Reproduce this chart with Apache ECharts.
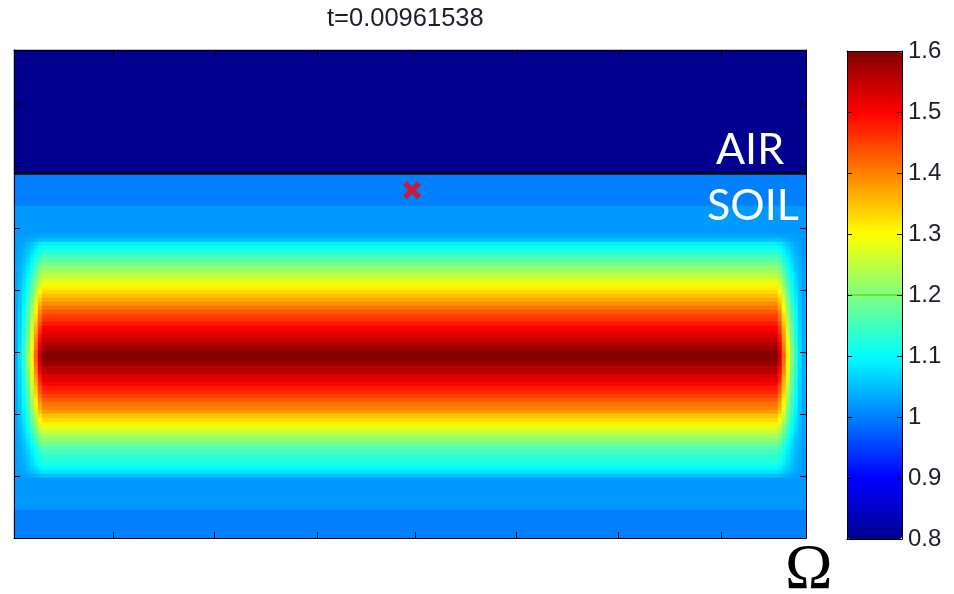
<!DOCTYPE html>
<html><head><meta charset="utf-8">
<script src="https://cdn.jsdelivr.net/npm/echarts@6/dist/echarts.min.js"></script>
<style>html,body{margin:0;padding:0;background:#fff}#c{width:954px;height:594px}</style>
</head><body><div id="c"></div>
<script>
// ---- data ----
const titleText = 't=0.00961538';
const airValue = 0.8;          // value in the AIR layer
const airRows = 31;            // rows of the field above the interface
const bandBase = 1.02;         // level reached by the soil band next to the walls
// soil value per row, top (interface) to bottom, centre columns
const soilProfile = [
  1.00,1.00,1.00,1.00,1.00,1.00,1.00,1.00,
  1.02,1.02,1.02,1.02,1.02,1.02,1.02,
  1.03,1.05,1.09,1.11,1.13,1.15,1.17,1.19,1.21,1.23,1.25,1.27,1.29,1.31,1.33,1.35,
  1.37,1.39,1.41,1.43,1.45,1.46,1.48,1.50,1.51,1.53,1.54,1.56,1.57,1.59,1.60,
  1.59,1.58,1.56,1.55,1.53,1.52,1.50,1.48,1.47,1.45,1.43,1.41,1.40,1.38,1.35,
  1.33,1.31,1.28,1.26,1.23,1.21,1.19,1.17,1.15,1.14,1.13,1.12,1.10,1.08,1.05,
  1.02,1.02,1.02,1.02,1.02,1.02,1.02,1.02,
  1.00,1.00,1.00,1.00,1.00,1.00,1.00
];
// share of the band kept in the columns next to the left / right walls
const leftEdge = [0.03,0.10,0.20,0.33,0.50,0.70,0.90];
const rightEdge = [0.90,0.70,0.50,0.33,0.20,0.10,0.03];
const interiorColumns = 184;
// axes
const xMax = 7.82;
const xTicks = [0.98,1.98,2.99,3.96,4.96,5.97,6.98];
const yMax = 7.87;
const interfaceLevel = 5.88;
const markerPoint = [3.93, 5.61];
const colorMin = 0.8, colorMax = 1.6, colorStep = 0.1;
const colorContour = 1.2;
const jet = ['#00008F','#0000FF','#0080FF','#00FFFF','#80FF80','#FFFF00','#FF8000','#FF0000','#800000'];

// ---- build the field ----
const columnFactor = leftEdge.concat(new Array(interiorColumns).fill(1), rightEdge);
const nCols = columnFactor.length;
const nRows = airRows + soilProfile.length;
const field = [];
for (let r = 0; r < nRows; r++) {
  for (let c = 0; c < nCols; c++) {
    let v;
    if (r < airRows) v = airValue;
    else {
      const p = soilProfile[r - airRows];
      v = p <= bandBase ? p : bandBase + (p - bandBase) * columnFactor[c];
    }
    field.push([c, nRows - 1 - r, v]);
  }
}
const colCats = Array.from({length: nCols}, (_, i) => i);
const rowCats = Array.from({length: nRows}, (_, i) => i);

const black = '#000';
const labelColor = '#1e1e2a';
function frameAxis(extra) {
  return Object.assign({
    type: 'value', z: 10, splitLine: {show: false},
    axisLine: {show: true, onZero: false, lineStyle: {color: black, width: 1}},
    axisTick: {show: true, inside: true, length: 6, lineStyle: {color: black, width: 1}},
    axisLabel: {show: false}
  }, extra);
}

const chart = echarts.init(document.getElementById('c'));
chart.setOption({
  animation: false,
  backgroundColor: '#fff',
  title: {
    text: titleText, left: 327, top: 6, padding: 0,
    textStyle: {fontFamily: 'Liberation Sans', fontSize: 25.5, fontWeight: 'normal', color: labelColor}
  },
  grid: [
    {left: 14, top: 50, width: 792, height: 488},
    {left: 847, top: 51, width: 55, height: 488}
  ],
  xAxis: [
    {type: 'category', gridIndex: 0, data: colCats, show: false, position: 'bottom'},
    frameAxis({gridIndex: 0, min: 0, max: xMax, position: 'bottom',
      axisTick: {show: true, inside: true, length: 6, customValues: xTicks, lineStyle: {color: black}}}),
    frameAxis({gridIndex: 0, min: 0, max: xMax, position: 'top',
      axisTick: {show: true, inside: true, length: 6, customValues: xTicks, lineStyle: {color: black}}}),
    frameAxis({gridIndex: 1, min: 0, max: 1, position: 'bottom', axisTick: {show: false}}),
    frameAxis({gridIndex: 1, min: 0, max: 1, position: 'top', axisTick: {show: false}})
  ],
  yAxis: [
    {type: 'category', gridIndex: 0, data: rowCats, show: false, position: 'left'},
    frameAxis({gridIndex: 0, min: 0, max: yMax, interval: 1, position: 'left'}),
    frameAxis({gridIndex: 0, min: 0, max: yMax, interval: 1, position: 'right'}),
    frameAxis({gridIndex: 1, min: colorMin, max: colorMax, interval: colorStep, position: 'right',
      axisTick: {show: true, inside: true, length: 5, lineStyle: {color: black}},
      axisLabel: {show: true, margin: 6, fontFamily: 'Liberation Sans', fontSize: 24, color: labelColor}}),
    frameAxis({gridIndex: 1, min: colorMin, max: colorMax, interval: colorStep, position: 'left',
      axisTick: {show: true, inside: true, length: 5, lineStyle: {color: black}}})
  ],
  visualMap: {
    type: 'continuous', min: colorMin, max: colorMax, seriesIndex: 0,
    inRange: {color: jet}, calculable: false, hoverLink: false,
    orient: 'vertical', left: 847, top: 51, itemWidth: 55, itemHeight: 488, padding: 0
  },
  graphic: [
    {type: 'text', z: 20, style: {text: 'AIR', x: 716, y: 150, fill: '#fff', font: '43px Lato', textVerticalAlign: 'middle'}},
    {type: 'text', z: 20, style: {text: 'SOIL', x: 707, y: 206, fill: '#fff', font: '43px Lato', textVerticalAlign: 'middle'}},
    {type: 'text', z: 20, style: {text: 'Ω', x: 785, y: 571, fill: '#000', font: '64px "Liberation Serif"', textVerticalAlign: 'middle'}}
  ],
  series: [
    {type: 'heatmap', xAxisIndex: 0, yAxisIndex: 0, data: field, progressive: 0, silent: true,
      itemStyle: {borderWidth: 0}, emphasis: {disabled: true}},
    {type: 'line', xAxisIndex: 1, yAxisIndex: 1, z: 5, symbol: 'none', silent: true,
      data: [[0, interfaceLevel], [xMax, interfaceLevel]], lineStyle: {color: '#000', width: 2.5}},
    {type: 'scatter', xAxisIndex: 1, yAxisIndex: 1, z: 6, silent: true,
      symbol: 'path://M0,4 L4,0 L10,6 L16,0 L20,4 L14,10 L20,16 L16,20 L10,14 L4,20 L0,16 L6,10 Z',
      symbolSize: 18, itemStyle: {color: '#FF0000'}, data: [markerPoint]},
    {type: 'line', xAxisIndex: 3, yAxisIndex: 3, z: 5, symbol: 'none', silent: true,
      data: [[0, colorContour], [1, colorContour]], lineStyle: {color: '#66dd22', width: 1.5}}
  ]
});
</script>
</body></html>
